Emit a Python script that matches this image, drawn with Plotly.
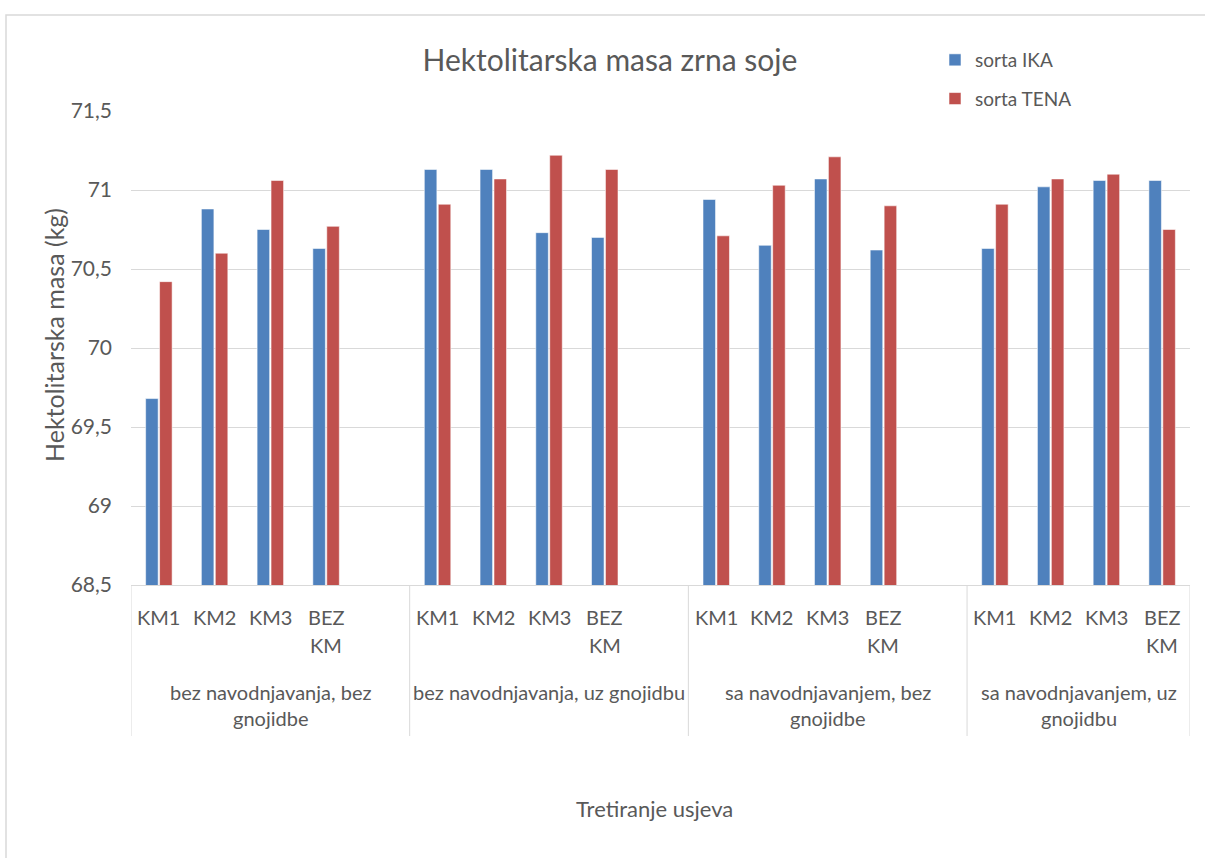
import plotly.graph_objects as go

# ---- data ----
groups = [
    "bez navodnjavanja, bez gnojidbe",
    "bez navodnjavanja, uz gnojidbu",
    "sa navodnjavanjem, bez gnojidbe",
    "sa navodnjavanjem, uz gnojidbu",
]
group_lines = [
    ["bez navodnjavanja, bez", "gnojidbe"],
    ["bez navodnjavanja, uz gnojidbu"],
    ["sa navodnjavanjem, bez", "gnojidbe"],
    ["sa navodnjavanjem, uz", "gnojidbu"],
]
treatments = ["KM1", "KM2", "KM3", "BEZ KM"]

ika = [
    [69.68, 70.88, 70.75, 70.63],
    [71.13, 71.13, 70.73, 70.70],
    [70.94, 70.65, 71.07, 70.62],
    [70.63, 71.02, 71.06, 71.06],
]
tena = [
    [70.42, 70.60, 71.06, 70.77],
    [70.91, 71.07, 71.22, 71.13],
    [70.71, 71.03, 71.21, 70.90],
    [70.91, 71.07, 71.10, 70.75],
]

series_names = ["sorta IKA", "sorta TENA"]
colors = ["#4F81BD", "#C0504D"]

# ---- layout helpers (pixel geometry) ----
W, H = 1205, 858
L, R, T, B = 131, 1190, 111, 585
pw, ph = R - L, B - T

def py(p):  # pixel y -> paper y
    return (B - p) / ph

def px(p):  # pixel x -> paper x
    return (p - L) / pw

slot = len(treatments) + 1  # each group has one empty slot after it (except last)
positions = []
for g in range(len(groups)):
    for j in range(len(treatments)):
        positions.append(g * slot + j)
n_slots = slot * (len(groups) - 1) + len(treatments)

font = "Lato, 'Open Sans', sans-serif"
gray = "#595959"

fig = go.Figure()
for name, vals, col in zip(series_names, [ika, tena], colors):
    flat = [v for grp in vals for v in grp]
    fig.add_trace(go.Bar(
        x=positions, y=flat, name=name, legendgroup=name,
        marker=dict(color=col, line=dict(color="rgba(255,255,255,0.55)", width=1)),
    ))

annotations = []
# sub-category labels
for g in range(len(groups)):
    for j, t in enumerate(treatments):
        words = t.split(" ")
        for k, w in enumerate(words):
            annotations.append(dict(
                x=g * slot + j, y=py(617 + 28 * k), xref="x", yref="paper",
                text=w, showarrow=False, xanchor="center", yanchor="middle",
                font=dict(family=font, size=20, color=gray)))
# group labels
for g, lines in enumerate(group_lines):
    start = g * slot - 0.5
    end = min(g * slot + slot - 0.5, n_slots - 0.5)
    cx = (start + end) / 2
    for k, line in enumerate(lines):
        annotations.append(dict(
            x=cx, y=py(692 + 26 * k), xref="x", yref="paper",
            text=line, showarrow=False, xanchor="center", yanchor="middle",
            font=dict(family=font, size=20, color=gray)))
# axis titles
annotations.append(dict(x=px(654), y=py(808), xref="paper", yref="paper",
                        text="Tretiranje usjeva", showarrow=False,
                        xanchor="center", yanchor="middle",
                        font=dict(family=font, size=22, color=gray)))
annotations.append(dict(x=px(54), y=py(335), xref="paper", yref="paper",
                        text="Hektolitarska masa (kg)", showarrow=False,
                        textangle=-90, xanchor="center", yanchor="middle",
                        font=dict(family=font, size=25, color=gray)))

shapes = []
# separators between groups
seps = [-0.5] + [g * slot + slot - 0.5 for g in range(len(groups) - 1)] + [n_slots - 0.5]
for s in seps:
    shapes.append(dict(type="line", x0=s, x1=s, xref="x", yref="paper",
                       y0=0, y1=py(736), line=dict(color="#d9d9d9", width=1)))
# chart border
shapes.append(dict(type="rect", xref="paper", yref="paper",
                   x0=px(6), x1=px(1215), y0=py(870), y1=py(15),
                   line=dict(color="#d9d9d9", width=1.5), layer="below"))

fig.update_layout(
    width=W, height=H,
    margin=dict(l=L, r=W - R, t=T, b=H - B, pad=0),
    paper_bgcolor="white", plot_bgcolor="white",
    separators=", ",
    barmode="group", bargap=0.5, bargroupgap=0.1,
    title=dict(text="Hektolitarska masa zrna soje", x=610 / W, xanchor="center",
               y=1 - 60 / H, yanchor="middle",
               font=dict(family=font, size=30, color=gray)),
    xaxis=dict(range=[-0.5, n_slots - 0.5], showticklabels=False, showgrid=False,
               zeroline=False, showline=True, linecolor="#d9d9d9", linewidth=1,
               ticks="", fixedrange=True),
    yaxis=dict(range=[68.5, 71.5], dtick=0.5, tick0=68.5, showgrid=True,
               gridcolor="#d9d9d9", gridwidth=1, zeroline=False, showline=False,
               ticks="", ticklabelstandoff=18,
               tickfont=dict(family=font, size=21, color=gray)),
    legend=dict(x=px(935), y=py(41), xanchor="left", yanchor="top",
                orientation="v", tracegroupgap=11,
                font=dict(family=font, size=19, color=gray),
                bgcolor="rgba(0,0,0,0)"),
    annotations=annotations,
    shapes=shapes,
    showlegend=True,
)

fig.write_html("out.html", config={"displayModeBar": False},
               post_script="document.body.style.margin='0';")
